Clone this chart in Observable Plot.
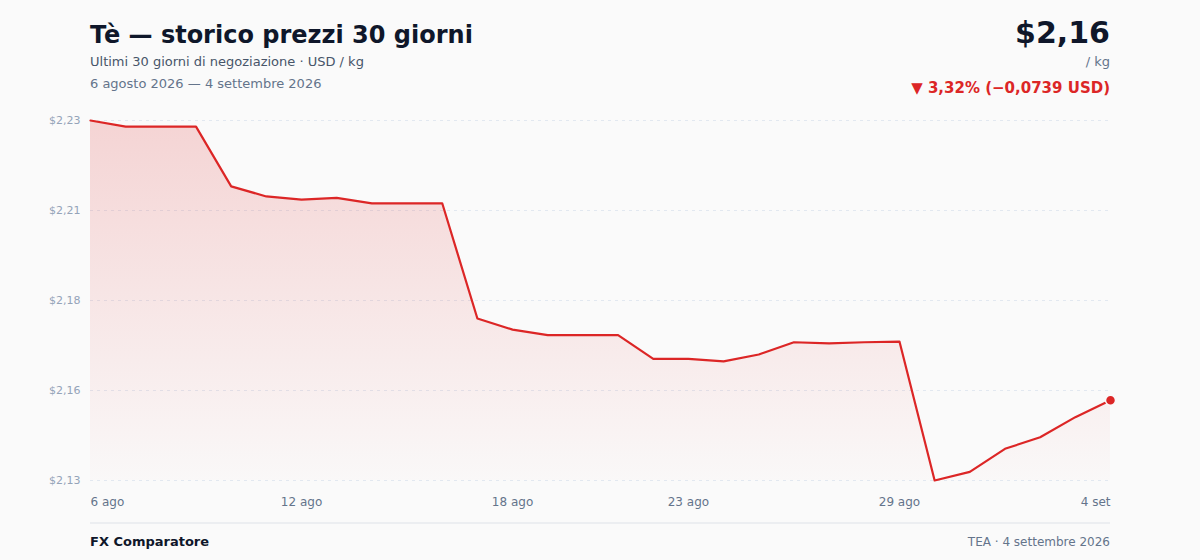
<!DOCTYPE html>
<html>
<head>
<meta charset="utf-8">
<script src="https://cdn.jsdelivr.net/npm/d3@7"></script>
<script src="https://cdn.jsdelivr.net/npm/@observablehq/plot@0.6"></script>
<style>
  html, body { margin: 0; padding: 0; }
  body { width: 1200px; height: 560px; background: #fafafa; font-family: "DejaVu Sans", sans-serif; position: relative; overflow: hidden; }
  .abs { position: absolute; white-space: nowrap; }
  #title { left: 90px; top: 21px; font-size: 24px; font-weight: bold; color: #0f172a; }
  #sub { left: 90px; top: 54px; font-size: 13px; color: #475569; }
  #range { left: 90px; top: 76px; font-size: 13px; color: #64748b; }
  #price { right: 90px; top: 15px; font-size: 30px; font-weight: bold; color: #0f172a; }
  #unit { right: 90px; top: 54px; font-size: 13px; color: #64748b; }
  #chg { right: 90px; top: 79px; font-size: 15px; font-weight: bold; color: #dc2626; }
  #chart { position: absolute; left: 0; top: 100px; }
  #rule { position: absolute; left: 90px; width: 1020px; top: 522px; height: 2px; background: #eceef1; }
  #brand { left: 90px; top: 534px; font-size: 13px; font-weight: bold; color: #0f172a; }
  #src { right: 90px; top: 535px; font-size: 12px; color: #64748b; }
</style>
</head>
<body>
<div class="abs" id="title">Tè — storico prezzi 30 giorni</div>
<div class="abs" id="sub">Ultimi 30 giorni di negoziazione · USD / kg</div>
<div class="abs" id="range">6 agosto 2026 — 4 settembre 2026</div>
<div class="abs" id="price">$2,16</div>
<div class="abs" id="unit">/ kg</div>
<div class="abs" id="chg">▼ 3,32% (−0,0739 USD)</div>
<div id="chart"></div>
<div id="rule"></div>
<div class="abs" id="brand">FX Comparatore</div>
<div class="abs" id="src">TEA · 4 settembre 2026</div>
<script>
const dates = [
  "2026-08-06","2026-08-07","2026-08-08","2026-08-09","2026-08-10",
  "2026-08-11","2026-08-12","2026-08-13","2026-08-14","2026-08-15",
  "2026-08-16","2026-08-17","2026-08-18","2026-08-19","2026-08-20",
  "2026-08-21","2026-08-22","2026-08-23","2026-08-24","2026-08-25",
  "2026-08-26","2026-08-27","2026-08-28","2026-08-29","2026-08-30",
  "2026-08-31","2026-09-01","2026-09-02","2026-09-03","2026-09-04"
];
const prices = [
  2.2300, 2.2283, 2.2283, 2.2283, 2.2117,
  2.2089, 2.2080, 2.2085, 2.2070, 2.2070,
  2.2070, 2.1750, 2.1719, 2.1704, 2.1704,
  2.1704, 2.1638, 2.1638, 2.1631, 2.1650,
  2.1684, 2.1681, 2.1684, 2.1686, 2.1300,
  2.1324, 2.1388, 2.1420, 2.1476, 2.1523
];
const yTickValues = [2.13, 2.155, 2.18, 2.205, 2.23];
const yTickLabels = ["$2,13", "$2,16", "$2,18", "$2,21", "$2,23"];
const xTickDates = ["2026-08-06","2026-08-12","2026-08-18","2026-08-23","2026-08-29","2026-09-04"];
const xTickLabels = ["6 ago", "12 ago", "18 ago", "23 ago", "29 ago", "4 set"];

const parse = d3.utcParse("%Y-%m-%d");
const data = dates.map((d, i) => ({date: parse(d), price: prices[i]}));
const xt = xTickDates.map(parse);
const xLabel = new Map(xt.map((d, i) => [+d, xTickLabels[i]]));
const yLabel = new Map(yTickValues.map((v, i) => [v, yTickLabels[i]]));
const yMin = d3.min(prices), yMax = d3.max(prices);
const last = data[data.length - 1];

function gradientDefs() {
  const ns = "http://www.w3.org/2000/svg";
  const defs = document.createElementNS(ns, "defs");
  const g = document.createElementNS(ns, "linearGradient");
  g.setAttribute("id", "fillGrad");
  g.setAttribute("x1", "0"); g.setAttribute("y1", "0");
  g.setAttribute("x2", "0"); g.setAttribute("y2", "1");
  [["0%", 0.18], ["100%", 0.01]].forEach(([o, a]) => {
    const s = document.createElementNS(ns, "stop");
    s.setAttribute("offset", o);
    s.setAttribute("stop-color", "#dc2626");
    s.setAttribute("stop-opacity", a);
    g.appendChild(s);
  });
  defs.appendChild(g);
  return defs;
}

const axisStyle = {tickSize: 0, tickPadding: 17, fontSize: 12, fill: "#64748b", label: null, tickFormat: d => xLabel.get(+d)};

const chart = Plot.plot({
  width: 1200,
  height: 420,
  marginLeft: 90,
  marginRight: 90,
  marginTop: 20,
  marginBottom: 40,
  style: {background: "transparent", fontFamily: "DejaVu Sans, sans-serif", overflow: "visible"},
  x: {type: "utc", domain: [data[0].date, last.date]},
  y: {domain: [yMin, yMax]},
  marks: [
    gradientDefs,
    Plot.gridY(yTickValues, {stroke: "#e2e8f0", strokeOpacity: 1, strokeDasharray: "3 4"}),
    Plot.areaY(data, {x: "date", y1: yMin, y2: "price", fill: "url(#fillGrad)"}),
    Plot.lineY(data, {x: "date", y: "price", stroke: "#dc2626", strokeWidth: 2.2}),
    Plot.dot([last], {x: "date", y: "price", r: 5, fill: "#dc2626", stroke: "#fafafa", strokeWidth: 1.5}),
    Plot.axisY(yTickValues, {tickSize: 0, tickPadding: 10, fontSize: 11, fill: "#94a3b8", label: null, tickFormat: v => yLabel.get(v)}),
    Plot.axisX([xt[0]], {...axisStyle, textAnchor: "start"}),
    Plot.axisX(xt.slice(1, -1), {...axisStyle}),
    Plot.axisX([xt[xt.length - 1]], {...axisStyle, textAnchor: "end"})
  ]
});
document.getElementById("chart").appendChild(chart);
</script>
</body>
</html>
